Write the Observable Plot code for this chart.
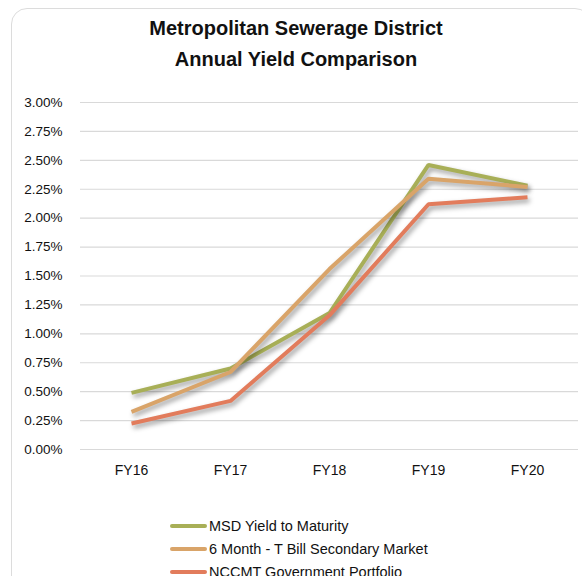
<!DOCTYPE html>
<html>
<head>
<meta charset="utf-8">
<script src="https://cdn.jsdelivr.net/npm/d3@7"></script>
<script src="https://cdn.jsdelivr.net/npm/@observablehq/plot@0.6"></script>
<style>
  html, body { margin: 0; padding: 0; background: #fff; }
  #wrap { position: relative; width: 582px; height: 576px; overflow: hidden; font-family: "Liberation Sans", Arial, sans-serif; }
  #card { position: absolute; left: 11px; top: 8px; width: 580px; height: 620px; border: 1px solid #dcdcdc; border-radius: 16px; box-sizing: border-box; }
  #title { position: absolute; left: 0; width: 592px; top: 13px; text-align: center; font-family: "Liberation Sans", Arial, sans-serif; font-weight: bold; font-size: 20px; line-height: 31px; color: #111; }
  #chart { position: absolute; left: 0; top: 0; }
  #legend { position: absolute; left: 170px; top: 514px; font-size: 14.5px; color: #111; }
  .row { height: 23px; display: flex; align-items: center; }
  .sw { width: 37px; height: 4px; border-radius: 2px; margin-right: 2px; }
</style>
</head>
<body>
<div id="wrap">
  <div id="card"></div>
  <div id="title">Metropolitan Sewerage District<br>Annual Yield Comparison</div>
  <div id="chart"></div>
  <div id="legend"></div>
</div>
<script>
const years = ["FY16", "FY17", "FY18", "FY19", "FY20"];
const seriesNames = ["MSD Yield to Maturity", "6 Month - T Bill Secondary Market", "NCCMT Government Portfolio"];
const msdYield = [0.0049, 0.0070, 0.0118, 0.0246, 0.0228];
const tBill6m = [0.00325, 0.0067, 0.0156, 0.0234, 0.0227];
const nccmt = [0.00225, 0.0042, 0.0116, 0.0212, 0.0218];
const colors = ["#A8AF57", "#D9A469", "#E27C5C"];
const yTicks = [0, 0.0025, 0.005, 0.0075, 0.01, 0.0125, 0.015, 0.0175, 0.02, 0.0225, 0.025, 0.0275, 0.03];

const allSeries = [msdYield, tBill6m, nccmt];
const data = [];
allSeries.forEach((vals, si) => {
  vals.forEach((v, i) => data.push({ year: years[i], value: v, series: seriesNames[si] }));
});

const plot = Plot.plot({
  width: 582,
  height: 500,
  marginTop: 102,
  marginBottom: 51,
  marginLeft: 80,
  marginRight: 4,
  style: { fontFamily: "'Liberation Sans', Arial, sans-serif", fontSize: "13.5px", color: "#111", background: "transparent" },
  x: { domain: years, type: "point", padding: 0.5 },
  y: { domain: [0, 0.03] },
  color: { domain: seriesNames, range: colors },
  marks: [
    Plot.ruleY(yTicks, { stroke: "#d9d9d9", strokeWidth: 1.2 }),
    Plot.axisY({ ticks: yTicks, tickFormat: d3.format(".2%"), tickSize: 0, tickPadding: 18, label: null }),
    Plot.axisX({ tickSize: 0, tickPadding: 16, label: null, fontSize: 14 }),
    Plot.line(data, { x: "year", y: "value", z: "series", stroke: "series", strokeWidth: 4, strokeLinejoin: "miter", strokeLinecap: "butt" })
  ]
});
d3.select(plot).selectAll('g[aria-label="line"] path').style("filter", "drop-shadow(2px 3px 2.5px rgba(0,0,0,0.4))");
document.getElementById("chart").appendChild(plot);

const legend = document.getElementById("legend");
seriesNames.forEach((name, i) => {
  const row = document.createElement("div");
  row.className = "row";
  const sw = document.createElement("div");
  sw.className = "sw";
  sw.style.background = colors[i];
  const t = document.createElement("span");
  t.textContent = name;
  row.appendChild(sw);
  row.appendChild(t);
  legend.appendChild(row);
});
</script>
</body>
</html>
